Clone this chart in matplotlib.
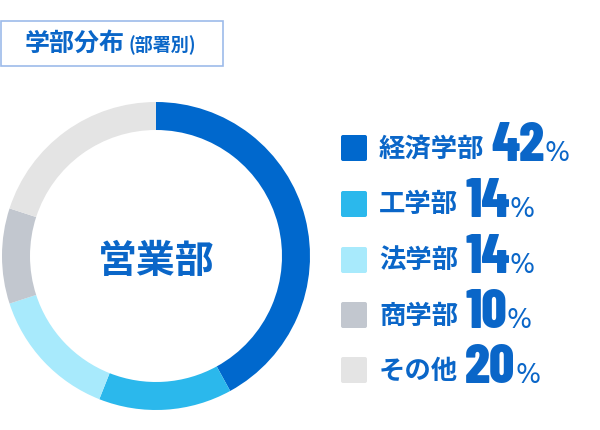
import matplotlib.pyplot as plt
from matplotlib.patches import Rectangle, FancyBboxPatch

# data
labels = ['経済学部', '工学部', '法学部', '商学部', 'その他']
shares = [42, 14, 14, 10, 20]
colors = ['#0068cd', '#2bb8ec', '#a8eafc', '#c2c7cf', '#e4e4e4']
title_main = '学部分布'
title_sub = '(部署別)'
center_label = '営業部'

JP = ['Noto Sans CJK JP', 'DejaVu Sans']
NUM = ['Barlow Condensed', 'DejaVu Sans']
blue = '#0a66c8'

fig = plt.figure(figsize=(6, 4.3), dpi=100)
ax = fig.add_axes([0, 0, 1, 1])

# donut (y axis is flipped later, so data-counterclockwise reads clockwise)
ax.pie(shares, colors=colors, startangle=-90, counterclock=True,
       center=(156, 256), radius=154,
       wedgeprops=dict(width=28, linewidth=0))

ax.set_xlim(0, 600)
ax.set_ylim(430, 0)
ax.set_aspect('equal')
ax.axis('off')

ax.text(156, 262, center_label, family=JP, fontsize=28, fontweight='bold',
        color=blue, ha='center', va='center')

# title box
ax.add_patch(Rectangle((0.5, 20.5), 222, 45, fill=False,
                       edgecolor='#9dbbea', linewidth=1.2))
ax.text(25, 44, title_main, family=JP, fontsize=18, fontweight='bold',
        color=blue, ha='left', va='center')
ax.text(129, 45, title_sub, family=JP, fontsize=13, fontweight='bold',
        color=blue, ha='left', va='center')

renderer = fig.canvas.get_renderer()
inv = ax.transData.inverted()


def right_edge(txt):
    bb = txt.get_window_extent(renderer=renderer)
    return inv.transform((bb.x1, bb.y0))[0]


# legend
row_y = [148, 204, 260, 315, 370]
for lab, val, col, y in zip(labels, shares, colors, row_y):
    ax.add_patch(FancyBboxPatch((343, y - 11), 22, 22,
                                boxstyle='round,pad=2', facecolor=col,
                                edgecolor='none'))
    t = ax.text(379, y + 1, lab, family=JP, fontsize=19, fontweight='bold',
                color=blue, ha='left', va='center')
    x_num = right_edge(t) + 7
    n = ax.text(x_num, y + 13, str(val), family=NUM, fontsize=40,
                fontweight=800, color=blue, ha='left', va='baseline')
    x_pct = right_edge(n)
    ax.text(x_pct, y + 13, '%', family=['DejaVu Sans'], fontsize=19,
            color=blue, ha='left', va='baseline')

fig.savefig('out.png', dpi=100)
